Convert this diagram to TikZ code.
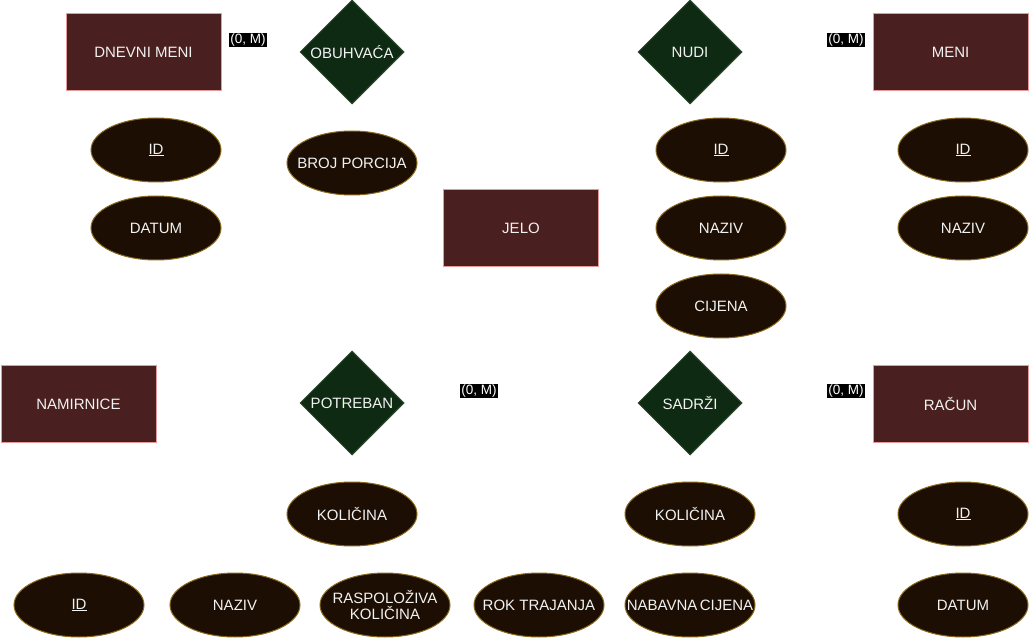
\documentclass[tikz,border=0pt]{standalone}
\usepackage{fontspec}
\setmainfont{Liberation Sans}
\usetikzlibrary{shapes.geometric}
\definecolor{entfill}{HTML}{4A1F1F}
\definecolor{entdraw}{HTML}{E89A9A}
\definecolor{relfill}{HTML}{0F2A12}
\definecolor{reldraw}{HTML}{2E4A2E}
\definecolor{attfill}{HTML}{1C0E02}
\definecolor{attdraw}{HTML}{8A6A1A}
\definecolor{txtcol}{HTML}{F2F2F2}
\begin{document}
\begin{tikzpicture}[x=1pt,y=-1pt,
  every node/.style={font=\fontsize{15}{17}\selectfont, text=txtcol},
  lbl/.style={text=txtcol, font=\fontsize{15}{16.5}\selectfont, align=center, inner sep=0pt},
  entity/.style={draw=entdraw, fill=entfill, line width=1pt, minimum width=155pt, minimum height=77pt, inner sep=0pt},
  rel/.style={diamond, draw=reldraw, fill=relfill, line width=1pt, minimum width=104pt, minimum height=104pt, inner sep=0pt, label={[lbl]center:#1}},
  attr/.style={ellipse, draw=attdraw, fill=attfill, line width=1pt, minimum width=130pt, minimum height=64pt, inner sep=0pt, label={[lbl]center:#1}},
  card/.style={fill=black, text=white, font=\fontsize{13.5}{14}\selectfont, inner sep=1pt}]
\useasboundingbox (0,0) rectangle (1029,639);
\fill[white] (0,0) rectangle (1029,639);
% entities
\node[entity] (dnevni) at (143.5,52.5) {DNEVNI MENI};
\node[entity] (meni) at (950.5,52.5) {MENI};
\node[entity] (jelo) at (521,228) {JELO};
\node[entity] (namirnice) at (78.5,404) {NAMIRNICE};
\node[entity] (racun) at (950.5,404) {RAČUN};
% relationships
\node[rel=OBUHVAĆA] (obuhvaca) at (352,52) {};
\node[rel=NUDI] (nudi) at (690,52) {};
\node[rel=POTREBAN] (potreban) at (352,403) {};
\node[rel=SADRŽI] (sadrzi) at (690,403) {};
% attributes
\node[attr=\underline{ID}] (dmid) at (156,150) {};
\node[attr=DATUM] (dmdatum) at (156,228) {};
\node[attr=BROJ PORCIJA] (broj) at (352,163) {};
\node[attr=\underline{ID}] (jid) at (721,150) {};
\node[attr=NAZIV] (jnaziv) at (721,228) {};
\node[attr=CIJENA] (jcijena) at (721,306) {};
\node[attr=\underline{ID}] (mid) at (963,150) {};
\node[attr=NAZIV] (mnaziv) at (963,228) {};
\node[attr=KOLIČINA] (pkol) at (352,514) {};
\node[attr=KOLIČINA] (skol) at (690,514) {};
\node[attr=\underline{ID}] (rid) at (963,514) {};
\node[attr=DATUM] (rdatum) at (963,605) {};
\node[attr=\underline{ID}] (nid) at (79,605) {};
\node[attr=NAZIV] (nnaziv) at (235,605) {};
\node[attr={RASPOLOŽIVA\\KOLIČINA}] (nraspol) at (385,605) {};
\node[attr=ROK TRAJANJA] (nrok) at (539,605) {};
\node[attr={NABAVNA\,CIJENA}] (nnab) at (690,605) {};
% cardinalities
\node[card] (c1) at (248,40) {(0, M)};
\node[card] (c2) at (846,40) {(0, M)};
\node[card] (c3) at (479,391) {(0, M)};
\node[card] (c4) at (846,391) {(0, M)};
\end{tikzpicture}
\end{document}
